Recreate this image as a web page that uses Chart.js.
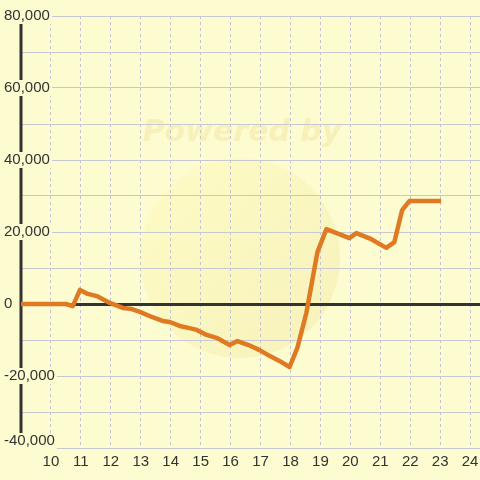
<!DOCTYPE html>
<html>
<head>
<meta charset="utf-8">
<script src="https://cdn.jsdelivr.net/npm/chart.js@4/dist/chart.umd.min.js"></script>
<style>
  html, body { margin: 0; padding: 0; background: #fcfcd0; }
  #chart { display: block; }
</style>
</head>
<body>
<canvas id="chart" width="480" height="480"></canvas>
<script>
// valores
const tiempo = [9, 10.5, 10.73, 10.97, 11.23, 11.53, 11.97, 12.4, 12.7, 12.97, 13.37, 13.73, 13.97, 14.3, 14.63, 14.87,
  15.2, 15.53, 15.97, 16.23, 16.6, 16.97, 17.3, 17.63, 17.97, 18.23, 18.53, 18.9, 19.2, 19.97, 20.2, 20.7, 21.2,
  21.47, 21.73, 21.97, 23.03];
const saldo = [0, 0, -600, 3900, 2800, 2200, 300, -1100, -1400, -2200, -3600, -4700, -5000, -6100, -6700, -7200,
  -8600, -9400, -11400, -10300, -11400, -12800, -14400, -15800, -17500, -12200, -2500, 14400, 20800, 18300, 19700, 18000, 15600,
  17200, 26100, 28600, 28600];
const ticksX = [10, 11, 12, 13, 14, 15, 16, 17, 18, 19, 20, 21, 22, 23, 24];
const lineasY = [-40000, -30000, -20000, -10000, 0, 10000, 20000, 30000, 40000, 50000, 60000, 70000, 80000];
const etiquetasY = [-40000, -20000, 0, 20000, 40000, 60000, 80000];

const fondo = '#fcfcd0';
const fuente = '15px "Liberation Sans", Arial, sans-serif';

const decoracion = {
  id: 'decoracion',
  beforeDraw(chart) {
    const ctx = chart.ctx;
    ctx.save();
    ctx.fillStyle = fondo;
    ctx.fillRect(0, 0, chart.width, chart.height);
    // marca de agua
    const grad = ctx.createLinearGradient(160, 180, 320, 340);
    grad.addColorStop(0, 'rgba(255,245,170,0.3)');
    grad.addColorStop(1, 'rgba(240,225,150,0.35)');
    ctx.fillStyle = grad;
    ctx.beginPath();
    ctx.arc(240, 258, 100, 0, Math.PI * 2);
    ctx.fill();
    ctx.font = 'italic bold 30px "DejaVu Sans", sans-serif';
    ctx.fillStyle = 'rgba(240,225,150,0.4)';
    ctx.textAlign = 'center';
    ctx.textBaseline = 'middle';
    ctx.fillText('Powered by', 242, 133);
    ctx.restore();
  },
  beforeDatasetsDraw(chart) {
    const ctx = chart.ctx;
    const area = chart.chartArea;
    ctx.save();
    // eje vertical
    ctx.strokeStyle = '#333';
    ctx.lineWidth = 3;
    ctx.beginPath();
    ctx.moveTo(area.left, area.top);
    ctx.lineTo(area.left, area.bottom);
    ctx.stroke();
    ctx.restore();
  },
  afterDraw(chart) {
    const ctx = chart.ctx;
    const y = chart.scales.y;
    const x = chart.scales.x;
    ctx.save();
    ctx.font = fuente;
    ctx.textBaseline = 'middle';
    ctx.textAlign = 'left';
    etiquetasY.forEach(v => {
      const txt = v.toLocaleString('en-US');
      let py = y.getPixelForValue(v);
      py = Math.min(py, chart.chartArea.bottom - 7);
      const w = ctx.measureText(txt).width;
      ctx.fillStyle = fondo;
      ctx.fillRect(3, py - 8, w + 3, 16);
      ctx.fillStyle = '#333';
      ctx.fillText(txt, 4, py);
    });
    ctx.textAlign = 'center';
    ctx.fillStyle = '#333';
    ticksX.forEach(v => {
      ctx.fillText(String(v), x.getPixelForValue(v), chart.chartArea.bottom + 14);
    });
    ctx.restore();
  }
};

new Chart(document.getElementById('chart'), {
  type: 'line',
  data: {
    datasets: [{
      data: tiempo.map((t, i) => ({ x: t, y: saldo[i] })),
      borderColor: '#e07a22',
      borderWidth: 4.5,
      pointRadius: 0,
      tension: 0,
      borderJoinStyle: 'round',
      borderCapStyle: 'butt'
    }]
  },
  options: {
    responsive: false,
    animation: false,
    layout: { padding: { top: 16, left: 0, right: 0, bottom: 0 } },
    plugins: { legend: { display: false }, tooltip: { enabled: false } },
    scales: {
      x: {
        type: 'linear',
        min: 9,
        max: 24.33,
        afterBuildTicks: s => { s.ticks = ticksX.map(v => ({ value: v })); },
        afterFit: s => { s.height = 32; },
        grid: { color: '#c4c4cc', lineWidth: 1, drawTicks: false },
        border: { display: false, dash: [3, 3] },
        ticks: { display: false }
      },
      y: {
        min: -40000,
        max: 80000,
        afterBuildTicks: s => { s.ticks = lineasY.map(v => ({ value: v })); },
        afterFit: s => { s.width = 21; },
        grid: {
          drawTicks: false,
          color: c => c.tick && c.tick.value === 0 ? '#333' : '#c8c8d0',
          lineWidth: c => c.tick && c.tick.value === 0 ? 3 : 1
        },
        border: { display: false },
        ticks: { display: false }
      }
    }
  },
  plugins: [decoracion]
});
</script>
</body>
</html>
